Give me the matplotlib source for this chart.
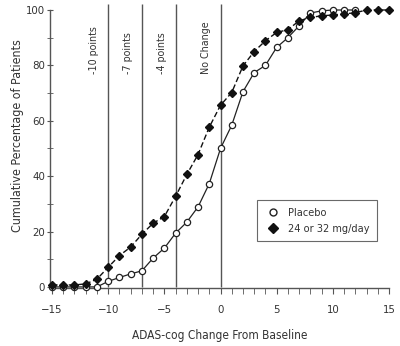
import matplotlib
matplotlib.use("Agg")
import matplotlib.pyplot as plt
from matplotlib import font_manager as fm
from matplotlib.lines import Line2D

# pick a condensed font if one is installed
cond = [f for f in fm.fontManager.ttflist
        if ('Narrow' in f.fname or 'Condensed' in f.fname) and 'Bold' not in f.fname
        and 'Oblique' not in f.fname and 'Italic' not in f.fname]
if cond:
    family = fm.FontProperties(fname=cond[0].fname).get_name()
    plt.rcParams['font.family'] = [family, 'DejaVu Sans']
    plt.rcParams['font.stretch'] = cond[0].stretch
    SCALE = 1.0
else:
    plt.rcParams['font.family'] = ['Roboto', 'DejaVu Sans']
    SCALE = 0.92

x_placebo = list(range(-15, 13))
y_placebo = [0, 0, 0, 0, 0, 2, 3.4, 4.7, 5.8, 10.4, 14, 19.4, 23.4, 28.9, 37.3, 50,
             58.4, 70.5, 77.4, 80, 86.5, 90, 94.3, 98.9, 99.7, 100, 100, 100]
x_drug = list(range(-15, 16))
y_drug = [0.7, 0.7, 0.7, 1.1, 2.8, 7.1, 11.3, 14.4, 19, 23, 25.4, 32.7, 40.6, 47.8,
          57.7, 65.6, 70.2, 79.8, 85, 88.9, 91.9, 92.9, 96.1, 97.3, 97.9, 98.2, 98.6,
          99, 100, 100, 100]
ref_x = [-10, -7, -4, 0]
ref_labels = ['-10 points', '-7 points', '-4 points', 'No Change']
x_ticks = [-15, -10, -5, 0, 5, 10, 15]
y_ticks = [0, 20, 40, 60, 80, 100]

txt = '#333333'
fig = plt.figure(figsize=(4, 3.46), dpi=100)
ax = fig.add_axes([0.125, 0.1676, 0.8475, 0.8035])

for xv, lab in zip(ref_x, ref_labels):
    ax.vlines(xv, 0, 102, color='#555555', lw=1.0, clip_on=False, zorder=1)
    ax.text(xv - 1.25, 77, lab, rotation=90, ha='center', va='bottom',
            fontsize=7.7 * SCALE, color=txt)

ax.plot(x_placebo, y_placebo, '-', color='#222222', lw=0.9, marker='o', ms=4.5,
        mfc='white', mec='#222222', mew=0.9, clip_on=False, zorder=3, label='Placebo')
ax.plot(x_drug, y_drug, '--', color='#111111', lw=1.0, dashes=(4, 2), marker='D', ms=4.5,
        mfc='#111111', mec='#111111', clip_on=False, zorder=4, label='24 or 32 mg/day')

ax.set_xlim(-15.18, 15)
ax.set_ylim(-0.4, 100)
ax.set_xticks(x_ticks)
ax.set_xticks(range(-15, 16), minor=True)
ax.set_yticks(y_ticks)
ax.set_yticks(range(10, 100, 20), minor=True)

for s in ['top', 'right']:
    ax.spines[s].set_visible(False)
for s in ['left', 'bottom']:
    ax.spines[s].set_color('#555555')
    ax.spines[s].set_linewidth(1.0)

ax.tick_params(axis='x', which='both', direction='out', color='#555555', length=4,
               labelsize=8.2 * SCALE, labelcolor=txt, pad=8)
ax.tick_params(axis='y', which='both', direction='inout', color='#555555', length=5,
               labelsize=8.2 * SCALE, labelcolor=txt, pad=1)

ax.set_xlabel('ADAS-cog Change From Baseline', fontsize=8.6 * SCALE, color=txt, labelpad=10)
fig.text(17.5 / 400, 1 - 136 / 346, 'Cumulative Percentage of Patients', rotation=90,
         ha='center', va='center', fontsize=8.9 * SCALE, color=txt)

handles = [Line2D([], [], ls='none', marker='o', ms=5, mfc='white', mec='#222222'),
           Line2D([], [], ls='none', marker='D', ms=5, mfc='#111111', mec='#111111')]
leg = ax.legend(handles, ['Placebo', '24 or 32 mg/day'], loc='upper left',
                bbox_to_anchor=(208 / 340, 88 / 278), fontsize=7.8 * SCALE, frameon=True,
                fancybox=False, edgecolor='#444444', handlelength=1.4, handletextpad=0.75,
                borderpad=0.7, labelspacing=0.55, borderaxespad=0)
leg.get_frame().set_linewidth(0.8)
for t in leg.get_texts():
    t.set_color(txt)

fig.savefig('out.png', dpi=100)
